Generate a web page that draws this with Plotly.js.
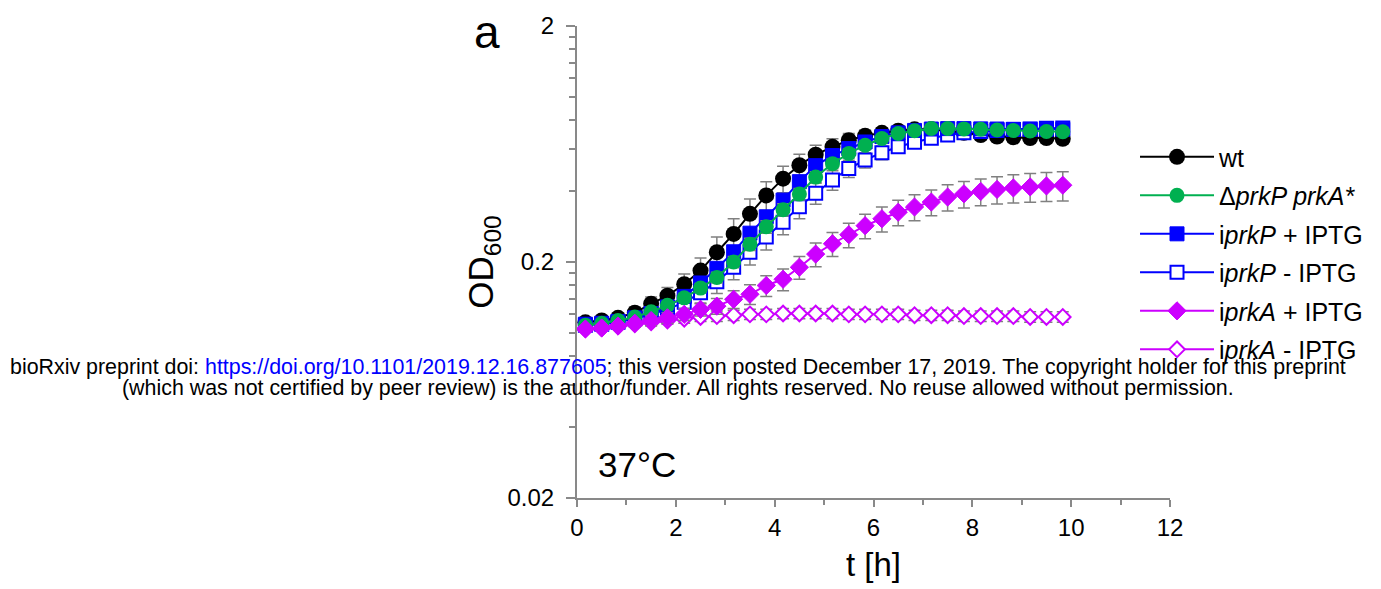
<!DOCTYPE html>
<html><head><meta charset="utf-8">
<script src="https://cdn.plot.ly/plotly-3.0.1.min.js"></script>
<style>html,body{margin:0;padding:0;background:#fff}#chart{width:1381px;height:589px}</style>
</head><body><div id="chart"></div>
<script>
// time points [h]
const timeH = [0.17,0.5,0.83,1.17,1.5,1.83,2.17,2.5,2.83,3.17,3.5,3.83,4.17,4.5,4.83,5.17,5.5,5.83,6.17,6.5,6.83,7.17,7.5,7.83,8.17,8.5,8.83,9.17,9.5,9.83];

// OD600 series
const wt      = [0.111,0.113,0.116,0.122,0.133,0.144,0.161,0.184,0.220,0.263,0.320,0.383,0.451,0.514,0.570,0.615,0.656,0.685,0.705,0.720,0.730,0.730,0.720,0.705,0.690,0.680,0.675,0.670,0.670,0.665];
const wtErr   = [0.003,0.004,0.005,0.007,0.009,0.012,0.017,0.024,0.035,0.042,0.050,0.055,0.058,0.058,0.055,0.050,0.045,0.040,0.035,0.030,0.030,0.030,0.030,0.030,0.030,0.030,0.030,0.030,0.030,0.030];

const dPrkP   = [0.108,0.110,0.113,0.117,0.123,0.131,0.141,0.155,0.172,0.200,0.238,0.282,0.333,0.388,0.458,0.522,0.577,0.625,0.667,0.701,0.720,0.736,0.736,0.733,0.730,0.725,0.721,0.718,0.715,0.713];
const dPrkPErr= [0.003,0.003,0.003,0.004,0.004,0.005,0.006,0.007,0.009,0.011,0.014,0.017,0.020,0.022,0.024,0.025,0.025,0.025,0.025,0.025,0.025,0.025,0.025,0.025,0.025,0.025,0.025,0.025,0.025,0.025];

const iPrkPplus    = [0.109,0.110,0.112,0.116,0.121,0.129,0.143,0.163,0.188,0.221,0.265,0.311,0.366,0.438,0.512,0.565,0.605,0.645,0.680,0.705,0.722,0.732,0.735,0.735,0.733,0.732,0.730,0.730,0.730,0.730];
const iPrkPplusErr = [0.003,0.003,0.003,0.004,0.004,0.005,0.006,0.007,0.009,0.011,0.014,0.017,0.020,0.022,0.024,0.025,0.025,0.025,0.025,0.025,0.025,0.025,0.025,0.025,0.025,0.025,0.025,0.025,0.025,0.025];

const iPrkPminus    = [0.108,0.109,0.111,0.115,0.120,0.126,0.135,0.148,0.165,0.190,0.220,0.255,0.295,0.343,0.391,0.445,0.498,0.541,0.581,0.616,0.643,0.669,0.690,0.705,0.715,0.722,0.728,0.733,0.737,0.740];
const iPrkPminusErr = [0.003,0.004,0.005,0.006,0.008,0.010,0.012,0.015,0.018,0.022,0.026,0.030,0.034,0.038,0.040,0.042,0.042,0.040,0.038,0.035,0.032,0.030,0.028,0.026,0.025,0.025,0.025,0.025,0.025,0.025];

const iPrkAplus    = [0.104,0.105,0.107,0.110,0.113,0.116,0.120,0.126,0.130,0.139,0.146,0.159,0.169,0.190,0.216,0.239,0.261,0.285,0.305,0.325,0.342,0.359,0.377,0.389,0.398,0.406,0.412,0.416,0.420,0.423];
const iPrkAplusErr = [0.002,0.003,0.003,0.004,0.005,0.006,0.007,0.008,0.010,0.012,0.014,0.016,0.018,0.021,0.025,0.028,0.031,0.034,0.037,0.040,0.043,0.045,0.048,0.050,0.052,0.054,0.056,0.058,0.059,0.060];

const iPrkAminus    = [0.104,0.105,0.107,0.109,0.111,0.113,0.115,0.117,0.118,0.119,0.120,0.120,0.121,0.121,0.121,0.121,0.120,0.120,0.120,0.120,0.119,0.119,0.119,0.118,0.118,0.118,0.118,0.117,0.117,0.117];
const iPrkAminusErr = [0.002,0.002,0.003,0.003,0.004,0.004,0.005,0.005,0.006,0.006,0.006,0.006,0.006,0.006,0.006,0.006,0.006,0.006,0.006,0.006,0.006,0.006,0.006,0.006,0.006,0.006,0.006,0.006,0.006,0.006];

// labels
const seriesNames = ['wt', 'Δ<i>prkP prkA*</i>', 'i<i>prkP</i> + IPTG', 'i<i>prkP</i> - IPTG', 'i<i>prkA</i> + IPTG', 'i<i>prkA</i> - IPTG'];
const yTickVals = [0.02, 0.2, 2];
const yTickText = ['0.02', '0.2', '2'];
const yMinorVals = [0.04,0.06,0.08,0.10,0.12,0.14,0.16,0.18,0.4,0.6,0.8,1.0,1.2,1.4,1.6,1.8];
const xTickVals = [0,2,4,6,8,10,12];

const FONT = 'Liberation Sans, Arial, sans-serif';
const GREY = '#898989';
const BLUE = '#0000FF', PINK = '#CC00FF', GREEN = '#00B050';

function errBar(arr) {
  return {type: 'data', array: arr, visible: true, color: '#808080', thickness: 1.5, width: 6};
}
function tr(y, err, name, rank, lineColor, marker) {
  return {
    x: timeH, y: y, name: name, legendrank: rank, legendgroup: 'g' + rank,
    type: 'scatter', mode: 'lines+markers',
    line: {color: lineColor, width: 2},
    marker: marker,
    error_y: errBar(err)
  };
}

const traces = [
  tr(wt, wtErr, seriesNames[0], 1, '#000000', {symbol: 'circle', size: 16, color: '#000000'}),
  tr(iPrkPminus, iPrkPminusErr, seriesNames[3], 4, BLUE, {symbol: 'square', size: 13, color: '#FFFFFF', line: {color: BLUE, width: 2}}),
  tr(iPrkPplus, iPrkPplusErr, seriesNames[2], 3, BLUE, {symbol: 'square', size: 14, color: BLUE, line: {color: BLUE, width: 1}}),
  tr(dPrkP, dPrkPErr, seriesNames[1], 2, GREEN, {symbol: 'circle', size: 15, color: GREEN}),
  tr(iPrkAminus, iPrkAminusErr, seriesNames[5], 6, PINK, {symbol: 'diamond', size: 12, color: '#FFFFFF', line: {color: PINK, width: 2}}),
  tr(iPrkAplus, iPrkAplusErr, seriesNames[4], 5, PINK, {symbol: 'diamond', size: 14, color: PINK, line: {color: PINK, width: 1}})
];

const layout = {
  width: 1381, height: 589,
  margin: {l: 577, r: 211, t: 26, b: 91},
  paper_bgcolor: '#FFFFFF', plot_bgcolor: '#FFFFFF',
  font: {family: FONT, color: '#000000', size: 24},
  showlegend: true,
  legend: {
    x: 0.941, xanchor: 'left', y: 0.771, yanchor: 'top',
    font: {family: FONT, size: 25, color: '#000000'},
    bgcolor: 'rgba(0,0,0,0)', borderwidth: 0,
    itemwidth: 74,
    traceorder: 'grouped', tracegroupgap: 3
  },
  xaxis: {
    range: [0, 12], tickvals: xTickVals, ticktext: xTickVals.map(String),
    showgrid: false, zeroline: false,
    showline: true, linecolor: GREY, linewidth: 2,
    ticks: 'outside', ticklen: 7, tickwidth: 2, tickcolor: GREY,
    minor: {dtick: 1, ticks: 'outside', ticklen: 5, tickwidth: 2, tickcolor: GREY, showgrid: false},
    tickfont: {family: FONT, size: 24, color: '#000000'},
    title: {text: 't [h]', font: {family: FONT, size: 33, color: '#000000'}, standoff: 13}
  },
  yaxis: {
    type: 'log', range: [Math.log10(0.02), Math.log10(2)],
    tickvals: yTickVals, ticktext: yTickText,
    showgrid: false, zeroline: false,
    showline: true, linecolor: GREY, linewidth: 2,
    ticks: 'outside', ticklen: 9, tickwidth: 2, tickcolor: GREY,
    ticklabelstandoff: 7,
    minor: {tickvals: yMinorVals, ticks: 'outside', ticklen: 6, tickwidth: 2, tickcolor: GREY, showgrid: false},
    tickfont: {family: FONT, size: 24, color: '#000000'},
    title: {text: 'OD<sub>600</sub>', font: {family: FONT, size: 35, color: '#000000'}, standoff: 3}
  },
  annotations: [
    {text: 'a', xref: 'paper', yref: 'paper', x: -0.152, y: 0.987, xanchor: 'center', yanchor: 'middle', showarrow: false, font: {family: FONT, size: 46, color: '#000000'}},
    {text: '37°C', xref: 'paper', yref: 'paper', x: 0.101, y: 0.07, xanchor: 'center', yanchor: 'middle', showarrow: false, font: {family: FONT, size: 35, color: '#000000'}},
    {text: 'bioRxiv preprint doi: <span style="color:#0000FF">https://doi.org/10.1101/2019.12.16.877605</span>; this version posted December 17, 2019. The copyright holder for this preprint',
     xref: 'paper', yref: 'paper', x: 0.1695, y: 0.2775, xanchor: 'center', yanchor: 'middle', showarrow: false, font: {family: FONT, size: 21.4, color: '#000000'}},
    {text: '(which was not certified by peer review) is the author/funder. All rights reserved. No reuse allowed without permission.',
     xref: 'paper', yref: 'paper', x: 0.1695, y: 0.233, xanchor: 'center', yanchor: 'middle', showarrow: false, font: {family: FONT, size: 21.4, color: '#000000'}}
  ]
};

Plotly.newPlot('chart', traces, layout, {staticPlot: true, displayModeBar: false});
</script>
</body></html>
